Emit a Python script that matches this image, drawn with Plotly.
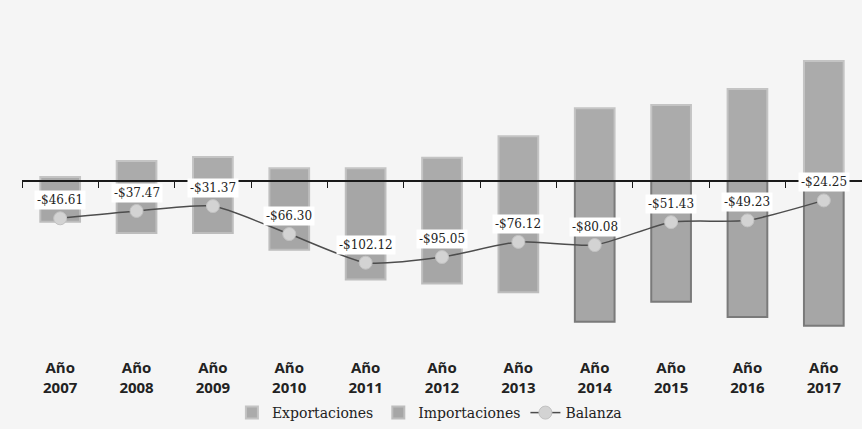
import plotly.graph_objects as go

# ---- data ----
years = ["2007", "2008", "2009", "2010", "2011", "2012", "2013", "2014", "2015", "2016", "2017"]
exportaciones = [5, 25, 30, 16, 16, 29, 56, 91, 95, 115, 150]
importaciones = [-51, -65, -65, -86, -123, -128, -139, -176, -151, -170, -181]
balanza = [-46.61, -37.47, -31.37, -66.30, -102.12, -95.05, -76.12, -80.08, -51.43, -49.23, -24.25]
balanza_labels = ["-$46.61", "-$37.47", "-$31.37", "-$66.30", "-$102.12", "-$95.05",
                  "-$76.12", "-$80.08", "-$51.43", "-$49.23", "-$24.25"]

cats = ["Año<br>" + y for y in years]

# ---- style ----
W, H = 862, 429
top_px, bot_px, zero_px = 40, 345, 181
px_per_unit = 0.8
y_top = (zero_px - top_px) / px_per_unit
y_bot = -(bot_px - zero_px) / px_per_unit
zero_frac = (bot_px - zero_px) / (bot_px - top_px)

imp_border = ["#bdbdbd"] * 7 + ["#7a7a7a"] * 4

fig = go.Figure()
fig.add_trace(go.Bar(
    x=cats, y=exportaciones, name="Exportaciones", width=0.52,
    marker=dict(color="#ababab", line=dict(color="#c4c4c4", width=2)),
))
fig.add_trace(go.Bar(
    x=cats, y=importaciones, name="Importaciones", width=0.52,
    marker=dict(color="#a6a6a6", line=dict(color=imp_border, width=2)),
))
fig.add_trace(go.Scatter(
    x=cats, y=balanza, name="Balanza", xaxis="x2", mode="lines+markers",
    line=dict(color="#4d4d4d", width=1.5, shape="spline", smoothing=0.6),
    marker=dict(size=13, color="#d3d3d3", line=dict(color="#c2c2c2", width=1)),
))

for c, v, t in zip(cats, balanza, balanza_labels):
    fig.add_annotation(
        x=c, y=v, xref="x2", yref="y", text=t, showarrow=False, yshift=18,
        bgcolor="#ffffff", borderpad=2,
        font=dict(family="DejaVu Serif", size=12, color="#222222"),
    )

n = len(cats)
fig.update_layout(
    width=W, height=H,
    margin=dict(l=22, r=0, t=top_px, b=H - bot_px, autoexpand=False),
    paper_bgcolor="#f5f5f5", plot_bgcolor="#f5f5f5",
    barmode="relative",
    showlegend=True,
    legend=dict(
        orientation="h", x=0.485, xanchor="center", yref="container",
        y=1 - 413 / H, yanchor="middle",
        font=dict(family="DejaVu Serif", size=14, color="#222222"),
        bgcolor="rgba(0,0,0,0)", itemwidth=30,
    ),
    xaxis=dict(
        type="category", range=[-0.5, n - 0.5], autorange=False,
        showline=False, showgrid=False, zeroline=False,
        ticks="", ticklabelstandoff=12,
        tickfont=dict(family="Open Sans", size=15, color="#222222", weight="bold"),
    ),
    xaxis2=dict(
        type="category", overlaying="x", anchor="free", position=zero_frac,
        side="bottom", showline=True, linecolor="#1a1a1a", linewidth=1.5,
        ticks="outside", tickson="boundaries", ticklen=6, tickwidth=1,
        tickcolor="#1a1a1a", showticklabels=False, showgrid=False,
        range=[-0.5, n - 0.5], autorange=False,
    ),
    yaxis=dict(range=[y_bot, y_top], autorange=False, showgrid=False, zeroline=False,
               showticklabels=False, showline=False),
)

fig.write_html("out.html", config={"displayModeBar": False},
               post_script="document.body.style.margin='0';")
